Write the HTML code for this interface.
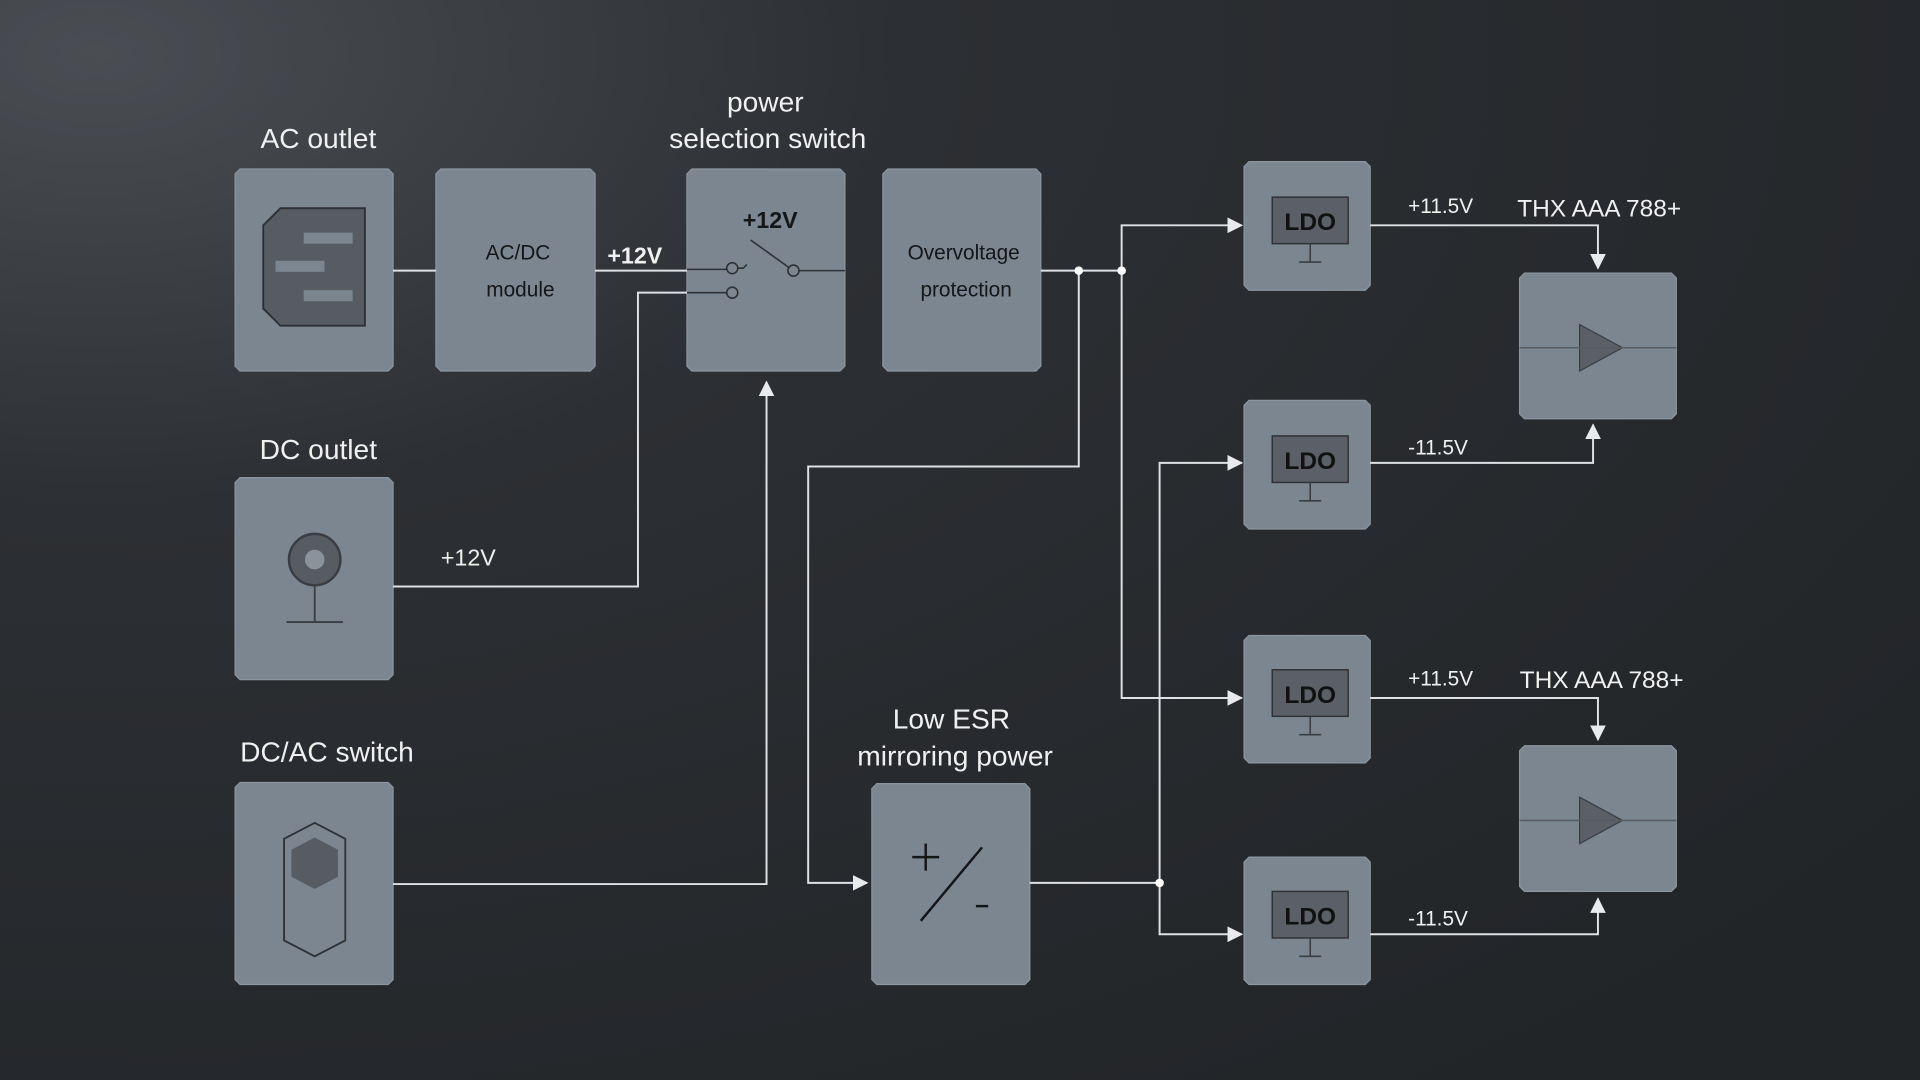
<!DOCTYPE html>
<html><head><meta charset="utf-8"><style>
html,body{margin:0;padding:0;width:1920px;height:1080px;overflow:hidden;background:#26292d;}
svg{display:block}
text{font-family:"Liberation Sans","DejaVu Sans",sans-serif;}
</style></head><body>
<svg width="1920" height="1080" viewBox="0 0 1568 882" preserveAspectRatio="none">
<defs>
<radialGradient id="bg" cx="0.05" cy="0.05" r="1.2">
<stop offset="0" stop-color="#4a4e53"/><stop offset="0.35" stop-color="#2c2f33"/><stop offset="1" stop-color="#222528"/>
</radialGradient>
<marker id="ar" viewBox="0 0 10 10" refX="9" refY="5" markerWidth="8" markerHeight="8" orient="auto"><path d="M0,0L10,5L0,10z" fill="#e8eaec"/></marker>
</defs>
<rect width="1568" height="882" fill="url(#bg)"/>
<g fill="#7b8691" stroke="#8c96a0" stroke-width="1">
<path d="M196,138h121l4,4v157l-4,4h-121l-4,-4v-157z"/>
<path d="M360,138h122l4,4v157l-4,4h-122l-4,-4v-157z"/>
<path d="M565,138h121l4,4v157l-4,4h-121l-4,-4v-157z"/>
<path d="M725,138h121l4,4v157l-4,4h-121l-4,-4v-157z"/>
<path d="M196,390h121l4,4v157l-4,4h-121l-4,-4v-157z"/>
<path d="M196,639h121l4,4v157l-4,4h-121l-4,-4v-157z"/>
<path d="M716,640h121l4,4v156l-4,4h-121l-4,-4v-156z"/>
<path d="M1020,132h95l4,4v97l-4,4h-95l-4,-4v-97z"/>
<path d="M1020,327h95l4,4v97l-4,4h-95l-4,-4v-97z"/>
<path d="M1020,519h95l4,4v96l-4,4h-95l-4,-4v-96z"/>
<path d="M1020,700h95l4,4v96l-4,4h-95l-4,-4v-96z"/>
<path d="M1245,223h120l4,4v111l-4,4h-120l-4,-4v-111z"/>
<path d="M1245,609h120l4,4v111l-4,4h-120l-4,-4v-111z"/>
</g>
<!-- labels -->
<g fill="#f0f0f0" font-size="23" text-anchor="middle">
<text x="260" y="121">AC outlet</text>
<text x="625" y="91">power</text>
<text x="627" y="121">selection switch</text>
<text x="260" y="375">DC outlet</text>
<text x="267" y="622">DC/AC switch</text>
<text x="777" y="595">Low ESR</text>
<text x="780" y="625">mirroring power</text>
<text x="1306" y="177" font-size="20">THX AAA 788+</text>
<text x="1308" y="562" font-size="20">THX AAA 788+</text>
</g>
<g fill="#f0f0f0" font-size="17">
<text x="1150" y="174">+11.5V</text>
<text x="1150" y="371">-11.5V</text>
<text x="1150" y="560">+11.5V</text>
<text x="1150" y="756">-11.5V</text>
<text x="360" y="462" font-size="19">+12V</text>
<text x="496" y="215" font-size="19" font-weight="bold">+12V</text>
</g>
<g fill="#151618" font-size="17" text-anchor="middle">
<text x="423" y="212">AC/DC</text>
<text x="425" y="242">module</text>
<text x="787" y="212">Overvoltage</text>
<text x="789" y="242">protection</text>
<text x="629" y="186" font-size="19" font-weight="bold">+12V</text>
</g>
<!-- icons -->
<path d="M229,170h69v96h-69l-14,-14v-68z" fill="#575c63" stroke="#2c2f33" stroke-width="1.5"/>
<rect x="248" y="190" width="40" height="9" fill="#7b8691"/>
<rect x="225" y="213" width="40" height="9" fill="#7b8691"/>
<rect x="248" y="237" width="40" height="9" fill="#7b8691"/>
<circle cx="257" cy="457" r="21" fill="#575c63" stroke="#3a3d42" stroke-width="2"/>
<circle cx="257" cy="457" r="8" fill="#8a939c"/>
<path d="M257,478v30M234,508h46" stroke="#3a3d42" stroke-width="1.5"/>
<path d="M232,685l25,-13l25,13v83l-25,13l-25,-13z" fill="none" stroke="#2e3135" stroke-width="1.5"/>
<path d="M257,684l19,10v22l-19,10l-19,-10v-22z" fill="#575c63"/>
<g stroke="#151618" stroke-width="2" fill="none"><path d="M745,700h22M756,689v22M752,752l50,-60M797,740h10"/></g>
<g fill="#5b6068" stroke="#2e3135" stroke-width="1.2">
<rect x="1039" y="161" width="62" height="38"/><rect x="1039" y="356" width="62" height="38"/>
<rect x="1039" y="547" width="62" height="38"/><rect x="1039" y="728" width="62" height="38"/>
</g>
<g fill="#111" font-size="20" font-weight="bold" text-anchor="middle">
<text x="1070" y="188">LDO</text><text x="1070" y="383">LDO</text><text x="1070" y="574">LDO</text><text x="1070" y="755">LDO</text>
</g>
<g stroke="#3a3d42" stroke-width="1.3">
<path d="M1070,199v15M1061,214h18M1070,394v15M1061,409h18M1070,585v15M1061,600h18M1070,766v15M1061,781h18"/>
</g>
<path d="M1290,265l35,19l-35,19z" fill="#5b6068" stroke="#3a3d42"/>
<path d="M1290,651l35,19l-35,19z" fill="#5b6068" stroke="#3a3d42"/>
<path d="M1241,284h128M1241,670h128" stroke="#575c63" stroke-width="1.3"/>
<!-- switch internals -->
<g stroke="#2e3135" stroke-width="1.3" fill="#7b8691">
<path d="M561,220h33M561,239h33M603,219h4l3,-3M613,196l32,23M652,221h38" fill="none"/>
<circle cx="598" cy="219" r="4.5"/><circle cx="598" cy="239" r="4.5"/><circle cx="648" cy="221" r="4.5"/>
</g>
<!-- connectors -->
<g stroke="#dfe2e5" stroke-width="1.6" fill="none">
<path d="M321,221h35M486,221h75"/>
<path d="M321,479h200v-240h40"/>
<path d="M321,722h305v-410" marker-end="url(#ar)"/>
<path d="M850,221h66"/>
<path d="M881,221v160h-221v340h48" marker-end="url(#ar)"/>
<path d="M916,221v-37h98" marker-end="url(#ar)"/>
<path d="M916,221v349h98" marker-end="url(#ar)"/>
<path d="M841,721h106"/>
<path d="M947,721v-343h67" marker-end="url(#ar)"/>
<path d="M947,721v42h67" marker-end="url(#ar)"/>
<path d="M1119,184h186v35" marker-end="url(#ar)"/>
<path d="M1119,378h182v-31" marker-end="url(#ar)"/>
<path d="M1119,570h186v34" marker-end="url(#ar)"/>
<path d="M1119,763h186v-29" marker-end="url(#ar)"/>
</g>
<g fill="#fff"><circle cx="881" cy="221" r="3.5"/><circle cx="916" cy="221" r="3.5"/><circle cx="947" cy="721" r="3.5"/></g>
</svg>
</body></html>
